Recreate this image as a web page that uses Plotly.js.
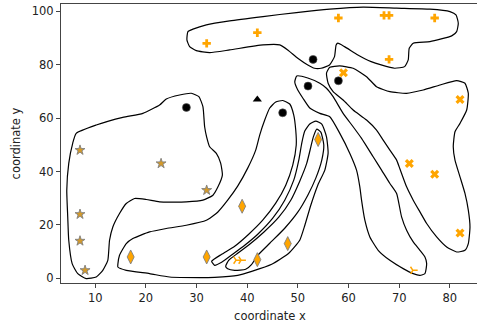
<!DOCTYPE html>
<html>
<head>
<meta charset="utf-8">
<script src="https://cdn.plot.ly/plotly-3.0.1.min.js"></script>
<style>html,body{margin:0;padding:0;overflow:hidden;background:#fff;}</style>
</head>
<body>
<div id="chart"></div>
<script>
// ---- marker data ----
const starX = [7, 23, 32, 7, 7, 8];
const starY = [48, 43, 33, 24, 14, 3];
const diamondX = [17, 32, 39, 42, 48, 54];
const diamondY = [8, 8, 27, 7, 13, 52];
const circleX = [28, 47, 52, 53, 58];
const circleY = [64, 62, 72, 82, 74];
const triangleX = [42];
const triangleY = [67];
const plusX = [32, 42, 58, 67, 68, 77, 68];
const plusY = [88, 92, 97.5, 98.5, 98.5, 97.5, 82];
const crossX = [59, 72, 77, 82, 82];
const crossY = [77, 43, 39, 67, 17];
const triLeftX = [37.8, 38.8, 72.7];
const triLeftY = [6.8, 6.8, 3];

// ---- contour outlines (data units) ----
const contourTop = [[28.30,92.42],[29.29,93.32],[31.94,94.93],[36.54,96.44],[43.12,98.05],[49.72,99.55],[56.30,100.83],[62.89,101.58],[69.49,101.20],[76.07,100.83],[80.02,99.92],[81.21,98.69],[81.66,95.57],[81.34,92.42],[80.36,90.81],[76.07,88.67],[72.77,88.07],[71.98,86.19],[71.78,81.80],[71.07,79.29],[69.09,78.69],[66.44,79.92],[64.47,81.16],[61.84,83.68],[59.21,86.79],[57.89,88.07],[57.55,87.43],[57.23,83.04],[56.25,79.92],[54.58,78.69],[53.28,78.69],[51.96,79.92],[49.98,82.44],[48.00,85.55],[46.42,87.43],[43.12,87.43],[36.54,85.55],[32.59,84.54],[29.96,85.29],[28.64,86.79],[28.10,89.31],[28.30,92.42]];
const contourLeft = [[6.25,54.30],[10.20,57.41],[15.45,60.30],[19.41,61.80],[22.71,64.92],[24.03,67.17],[26.66,68.67],[28.97,69.31],[30.47,68.03],[31.26,64.28],[31.60,56.77],[32.00,52.91],[32.59,49.27],[33.91,46.79],[34.76,43.15],[35.10,38.65],[34.23,34.26],[33.24,31.14],[31.26,29.27],[27.98,28.63],[22.71,28.63],[20.08,29.53],[17.77,29.91],[16.13,28.03],[14.80,24.28],[13.48,19.25],[12.83,14.26],[12.49,6.75],[11.50,3.00],[10.20,0.49],[8.22,-0.11],[6.56,1.76],[5.45,5.52],[4.78,14.26],[4.58,23.00],[4.39,33.02],[4.78,43.04],[5.57,50.66],[6.25,54.30]];
const contourBottom = [[14.47,5.25],[14.80,8.63],[16.13,13.02],[17.43,14.90],[20.73,17.37],[24.03,18.65],[27.98,19.89],[31.94,21.76],[34.17,24.77],[36.15,29.27],[38.12,34.52],[40.10,41.28],[41.68,48.03],[42.47,53.66],[43.46,59.29],[44.45,63.79],[45.63,66.04],[47.02,66.60],[48.40,65.29],[49.19,61.16],[49.58,55.53],[49.68,49.91],[48.99,42.40],[47.61,34.90],[45.63,28.14],[43.06,21.76],[40.30,16.51],[37.53,12.01],[34.96,9.01],[32.98,6.38],[33.58,4.88],[34.96,6.00],[37.13,9.01],[39.51,12.38],[42.08,16.51],[45.04,22.51],[47.41,29.27],[49.19,36.77],[50.18,44.28],[50.77,50.66],[51.36,55.16],[52.35,57.79],[53.54,58.91],[54.72,57.79],[55.65,53.02],[55.97,46.90],[55.32,40.53],[53.93,34.90],[52.55,27.39],[51.38,19.89],[50.37,14.26],[48.20,9.38],[44.84,5.25],[40.89,2.63],[38.12,1.13],[33.58,0.38],[30.61,0.26],[24.68,0.49],[20.73,1.76],[16.13,3.00],[14.47,4.24],[14.47,5.25]];
const contourInner = [[35.75,4.50],[36.34,6.75],[38.12,9.38],[40.49,12.76],[43.26,17.26],[46.23,22.89],[48.60,29.27],[50.37,36.40],[51.76,43.15],[52.55,49.16],[53.04,52.91],[53.73,55.91],[54.53,54.78],[55.12,49.91],[54.72,44.28],[53.54,37.52],[51.96,31.14],[49.98,24.77],[47.41,18.76],[44.45,13.13],[42.08,8.63],[40.89,5.25],[39.70,3.38],[37.53,3.00],[36.15,3.56],[35.75,4.50]];
const contourDiag = [[49.78,75.80],[51.96,75.05],[54.33,73.06],[55.65,71.18],[56.96,68.03],[58.93,61.80],[60.91,56.77],[62.57,52.42],[64.86,45.52],[66.52,40.53],[68.16,35.53],[69.49,31.78],[70.47,23.00],[71.46,18.01],[72.77,13.62],[74.09,10.51],[75.08,7.99],[75.42,5.52],[75.08,1.76],[74.09,1.13],[72.77,1.76],[70.79,3.64],[68.16,6.75],[65.85,10.51],[64.21,15.50],[63.22,21.76],[62.57,29.27],[62.23,34.26],[61.58,40.53],[60.26,46.79],[58.28,54.30],[56.30,60.53],[54.33,61.80],[52.35,63.79],[50.97,67.54],[49.98,70.54],[49.39,73.55],[49.78,75.80]];
const contourRight = [[55.65,76.81],[56.30,79.06],[58.28,79.55],[60.91,78.69],[63.56,75.53],[65.53,71.78],[68.16,69.91],[71.46,69.31],[74.74,70.54],[78.04,72.42],[81.34,74.03],[82.98,73.06],[83.64,69.31],[83.32,63.04],[82.00,58.05],[81.01,54.90],[80.67,49.27],[81.01,44.28],[82.00,38.01],[82.98,31.78],[83.64,25.52],[83.97,19.25],[83.64,13.02],[82.98,10.51],[81.34,9.87],[79.37,11.74],[77.39,15.50],[75.42,20.53],[74.09,24.88],[72.77,29.27],[71.46,34.26],[70.47,39.29],[70.00,41.76],[69.49,44.28],[68.16,48.03],[66.84,51.78],[65.53,55.53],[63.56,59.29],[60.91,63.04],[58.93,66.79],[56.96,69.91],[55.97,73.06],[55.65,76.81]];

const contours = [contourTop, contourLeft, contourBottom, contourInner, contourDiag, contourRight];

const orange = '#FFA500';
const grey = '#808080';

const traces = contours.map(c => ({
  x: c.map(p => p[0]), y: c.map(p => p[1]),
  mode: 'lines', type: 'scatter', hoverinfo: 'skip',
  line: {color: 'black', width: 1.2, shape: 'spline', smoothing: 0.5}
}));

traces.push({x: starX, y: starY, mode: 'markers', type: 'scatter',
  marker: {symbol: 'star', size: 7.5, color: '#d49a2a', line: {color: grey, width: 0.9}}});
traces.push({x: diamondX, y: diamondY, mode: 'markers', type: 'scatter',
  marker: {symbol: 'diamond-tall', size: 10, color: orange, line: {color: grey, width: 0.9}}});
traces.push({x: circleX, y: circleY, mode: 'markers', type: 'scatter',
  marker: {symbol: 'circle', size: 8, color: 'black', line: {color: '#555', width: 0.6}}});
traces.push({x: triangleX, y: triangleY, mode: 'markers', type: 'scatter',
  marker: {symbol: 'triangle-up', size: 8, color: 'black'}});
traces.push({x: plusX, y: plusY, mode: 'markers', type: 'scatter',
  marker: {symbol: 'cross', size: 7, color: orange, line: {width: 0}}});
traces.push({x: crossX, y: crossY, mode: 'markers', type: 'scatter',
  marker: {symbol: 'x', size: 8, color: orange, line: {width: 0}}});
traces.push({x: triLeftX, y: triLeftY, mode: 'markers', type: 'scatter',
  marker: {symbol: 'y-right', size: 6, color: orange, line: {color: orange, width: 1.5}}});

const tickFont = {family: 'DejaVu Sans', size: 11.5, color: '#222'};
const axisCommon = {
  showgrid: false, zeroline: false, showline: true, mirror: true,
  linecolor: '#444', linewidth: 1, ticks: 'outside', ticklen: 4, tickwidth: 1,
  tickcolor: '#444', tickfont: tickFont
};

const layout = {
  width: 481, height: 327,
  margin: {l: 61, r: 2, t: 4, b: 44},
  paper_bgcolor: '#fff', plot_bgcolor: '#fff',
  showlegend: false,
  font: {family: 'DejaVu Sans', size: 11, color: '#222'},
  xaxis: Object.assign({}, axisCommon, {
    range: [3.25, 85.75], tickvals: [10, 20, 30, 40, 50, 60, 70, 80],
    title: {text: 'coordinate x', font: {family: 'DejaVu Sans', size: 11.5, color: '#222'}, standoff: 8}
  }),
  yaxis: Object.assign({}, axisCommon, {
    range: [-1.75, 102.75], tickvals: [0, 20, 40, 60, 80, 100],
    title: {text: 'coordinate y', font: {family: 'DejaVu Sans', size: 11.5, color: '#222'}, standoff: 8}
  })
};

Plotly.newPlot('chart', traces, layout, {staticPlot: true, displayModeBar: false});
</script>
</body>
</html>
